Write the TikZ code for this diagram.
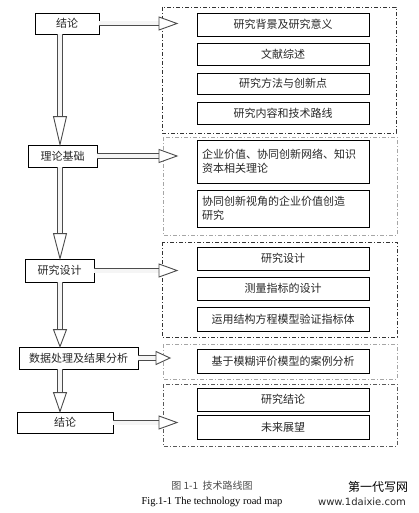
\documentclass[tikz,border=0pt]{standalone}
\usepackage{fontspec}
\setmainfont{Liberation Serif}
\newfontfamily\cjk{Noto Sans CJK SC}
\newfontfamily\wmfont{DejaVu Sans}
\usetikzlibrary{calc}

\tikzset{
	stage/.style={draw, line width=0.8pt, inner sep=0},
	item/.style={draw, line width=0.8pt, minimum width=172, inner sep=0},
	frame/.style={draw=#1, line width=0.8pt, dash pattern=on 4pt off 2pt on 1pt off 2pt},
	shaft/.style={draw=black!70, line width=0.9pt, double=gray!8, double distance=4pt},
	head/.style={draw=black!70, line width=0.9pt, fill=white, line join=miter}
}

% hollow block arrow: [head length]{from}{to}
\newcommand{\fatarrow}[3][18]{%
	\coordinate (hb) at ($(#3)!#1pt!(#2)$);
	\draw [shaft] (#2) -- (hb);
	\draw [head] (#3) -- ($(hb)!6.5pt!90:(#3)$) -- ($(hb)!6.5pt!-90:(#3)$) -- cycle;
}

\begin{document}
\begin{tikzpicture}
	[x=1pt, y=-1pt, every node/.style={font=\cjk\fontsize{11}{14}\selectfont, text=black!85}]
	\useasboundingbox (0,0) rectangle (418,513);
	\coordinate (spine) at (60,0);
	\coordinate (tip) at (177,0);
	\coordinate (tipd) at (170,0);

	\node (intro) [stage, minimum width=64, minimum height=21] at (67,23.5) {结论};
	\node (theory) [stage, minimum width=69, minimum height=22] at (62.5,156) {理论基础};
	\node (design) [stage, minimum width=69, minimum height=23] at (59.5,270.5) {研究设计};
	\node (data) [stage, minimum width=119, minimum height=22] at (78.5,358) {数据处理及结果分析};
	\node (concl) [stage, minimum width=96, minimum height=21] at (65,422.5) {结论};

	\draw [frame=black!80] (162,7) rectangle (396,133);
	\draw [frame=gray!70] (163,137) rectangle (397,235);
	\draw [frame=black!80] (162,242) rectangle (397,337);
	\draw [frame=gray!70] (163,344) rectangle (397,379);
	\draw [frame=black!65] (163,384) rectangle (397,446);

	\node (bg) [item, minimum height=23] at (283,24.5) {研究背景及研究意义};
	\node (lit) [item, minimum height=22] at (283,54) {文献综述};
	\node (meth) [item, minimum height=21] at (283,83.5) {研究方法与创新点};
	\node (cont) [item, minimum height=22] at (283,113) {研究内容和技术路线};
	\node (th1) [item, minimum height=43, align=left, text width=162] at (283,161.5) {企业价值、协同创新网络、知识\\资本相关理论};
	\node (th2) [item, minimum height=37, align=left, text width=162] at (283,208.5) {协同创新视角的企业价值创造\\研究};
	\node (d1) [item, minimum height=23] at (283,258.5) {研究设计};
	\node (d2) [item, minimum height=23] at (283,288.5) {测量指标的设计};
	\node (d3) [item, minimum height=24] at (283,319) {运用结构方程模型验证指标体};
	\node (fz) [item, minimum height=24] at (283,361) {基于模糊评价模型的案例分析};
	\node (c1) [item, minimum height=23] at (283,399.5) {研究结论};
	\node (c2) [item, minimum height=24] at (283,427) {未来展望};

	\fatarrow[28]{intro.south -| spine}{theory.north -| spine}
	\fatarrow[25]{theory.south -| spine}{design.north -| spine}
	\fatarrow[17]{design.south -| spine}{data.north -| spine}
	\fatarrow[19]{data.south -| spine}{concl.north -| spine}
	\fatarrow{intro.east}{intro.east -| tip}
	\fatarrow{theory.east}{theory.east -| tip}
	\fatarrow{design.east}{design.east -| tip}
	\fatarrow[14]{data.east}{data.east -| tipd}
	\fatarrow{concl.east}{concl.east -| tip}

	\node (capcn) [font=\cjk\fontsize{10}{12}\selectfont, text=black!70] at (212,486) {图 1-1\ \ 技术路线图};
	\node (capen) [font=\fontsize{10.5}{12}\selectfont, text=black] at (212,502) {Fig.1-1 The technology road map};
	\node (wm1) [font=\cjk\fontsize{12}{14}\selectfont, text=black] at (378,487) {第一代写网};
	\node (wm2) [font=\wmfont\fontsize{10}{12}\selectfont, text=black!85] at (362,502) {www.1daixie.com};
\end{tikzpicture}
\end{document}
